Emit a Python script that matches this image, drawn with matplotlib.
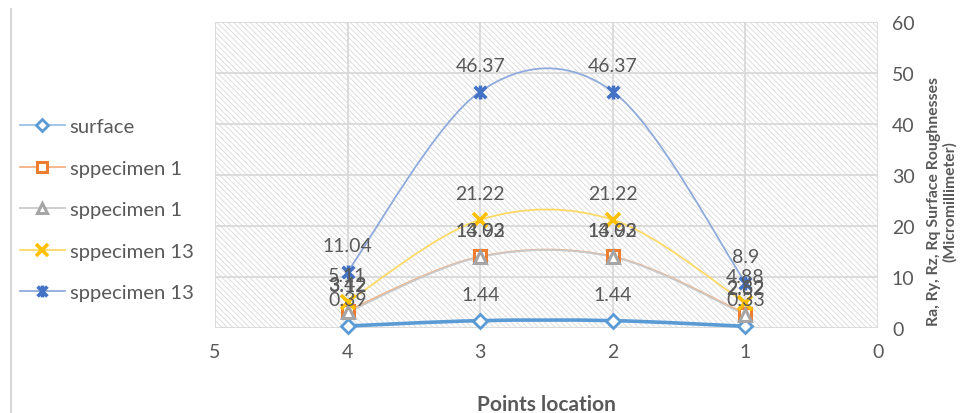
import matplotlib
matplotlib.use("Agg")
import matplotlib.pyplot as plt
from matplotlib.path import Path
from matplotlib.patches import PathPatch, Rectangle
from matplotlib.lines import Line2D

plt.rcParams['font.family'] = ['Lato', 'DejaVu Sans']
plt.rcParams['hatch.linewidth'] = 0.6

# ---- data ----
points = [4, 3, 2, 1]
series_names = ["surface", "sppecimen 1", "sppecimen 1", "sppecimen 13", "sppecimen 13"]
surface = [0.39, 1.44, 1.44, 0.33]
spec1_a = [3.42, 14.02, 14.02, 2.82]
spec1_b = [3.12, 13.93, 13.93, 2.62]
spec13_a = [5.11, 21.22, 21.22, 4.88]
spec13_b = [11.04, 46.37, 46.37, 8.9]
x_ticks = [5, 4, 3, 2, 1, 0]
y_ticks = [0, 10, 20, 30, 40, 50, 60]

TXT = '#595959'

star = Path([(-1, -1), (1, 1), (-1, 1), (1, -1), (0, -1.2), (0, 1.2)],
            [Path.MOVETO, Path.LINETO, Path.MOVETO, Path.LINETO, Path.MOVETO, Path.LINETO])

styles = [
    dict(line='#5B9BD5', lw=2.6, marker='D', ms=7, mec='#5B9BD5', mfc='white', mew=2.0),
    dict(line='#F4B183', lw=1.3, marker='s', ms=9, mec='#ED7D31', mfc='white', mew=2.2),
    dict(line='#C9C9C9', lw=1.3, marker='^', ms=8, mec='#A5A5A5', mfc='white', mew=2.2),
    dict(line='#FFD966', lw=1.3, marker='x', ms=10, mec='#FFC000', mfc='#FFC000', mew=2.6),
    dict(line='#8FAADC', lw=1.3, marker=star, ms=10, mec='#4472C4', mfc='#4472C4', mew=2.6),
]
data = [surface, spec1_a, spec1_b, spec13_a, spec13_b]


def smooth_path(xs, ys):
    pts = list(zip(xs, ys))
    n = len(pts)
    verts = [pts[0]]
    codes = [Path.MOVETO]
    for i in range(n - 1):
        p0 = pts[i - 1] if i > 0 else pts[i]
        p1 = pts[i]
        p2 = pts[i + 1]
        p3 = pts[i + 2] if i + 2 < n else pts[i + 1]
        c1 = (p1[0] + (p2[0] - p0[0]) / 6.0, p1[1] + (p2[1] - p0[1]) / 6.0)
        c2 = (p2[0] - (p3[0] - p1[0]) / 6.0, p2[1] - (p3[1] - p1[1]) / 6.0)
        verts += [c1, c2, p2]
        codes += [Path.CURVE4] * 3
    return Path(verts, codes)


fig = plt.figure(figsize=(9.66, 4.14), dpi=100)
ax = fig.add_axes([215 / 966, 1 - 329 / 414, (878 - 215) / 966, (329 - 23) / 414])

# hatched plot area
ax.add_patch(Rectangle((0, 0), 1, 1, transform=ax.transAxes, facecolor='white',
                       edgecolor='#D9D9D9', lw=0, hatch='\\' * 6, zorder=0))

ax.set_xlim(5, 0)
ax.set_ylim(0, 60)
ax.set_xticks(x_ticks)
ax.set_yticks(y_ticks)
ax.grid(True, color='#D9D9D9', lw=1.3, zorder=0.5)
ax.set_axisbelow(True)
for s in ax.spines.values():
    s.set_visible(False)
ax.yaxis.tick_right()
ax.yaxis.set_label_position('right')
ax.tick_params(axis='both', length=0, labelsize=14, labelcolor=TXT)
ax.tick_params(axis='y', pad=10)
ax.tick_params(axis='x', pad=11)

for vals, st in zip(data, styles):
    ax.add_patch(PathPatch(smooth_path(points, vals), facecolor='none',
                           edgecolor=st['line'], lw=st['lw'], zorder=2))

for vals, st in zip(data, styles):
    ax.plot(points, vals, ls='none', marker=st['marker'], ms=st['ms'], mec=st['mec'],
            mfc=st['mfc'], mew=st['mew'], zorder=3, clip_on=False)
    for xv, yv in zip(points, vals):
        ax.annotate(f"{yv:g}", (xv, yv), xytext=(0, 19), textcoords='offset points',
                    ha='center', va='center', fontsize=14, color=TXT, zorder=4)

ax.set_xlabel('Points location', fontsize=15, fontweight='bold', color=TXT, labelpad=24)
ax.set_ylabel('Ra, Ry, Rz, Rq Surface Roughnesses\n(Micromillimeter)', fontsize=11.3,
              fontweight='bold', color=TXT, linespacing=1.15)
ax.yaxis.set_label_coords((927 - 215) / 663, (329 - 202) / 306)

# legend
handles = []
for st in styles:
    handles.append(Line2D([], [], color=st['line'] if st['line'] != '#5B9BD5' else '#9DC3E6',
                          lw=1.3, marker=st['marker'], ms=st['ms'] * 0.85, mec=st['mec'],
                          mfc=st['mfc'], mew=st['mew']))
fig.legend(handles, series_names, loc='upper left', bbox_to_anchor=(20 / 966, 1 - 119 / 414),
           frameon=False, fontsize=14.6, labelcolor=TXT, handlelength=2.2, labelspacing=1.2,
           handletextpad=0.25, borderaxespad=0, borderpad=0)

# chart border fragment on left
fig.add_artist(Line2D([11 / 966, 11 / 966], [0, 1 - 10 / 414], color='#D9D9D9', lw=1.5,
                      transform=fig.transFigure))

fig.savefig('out.png', dpi=100)
